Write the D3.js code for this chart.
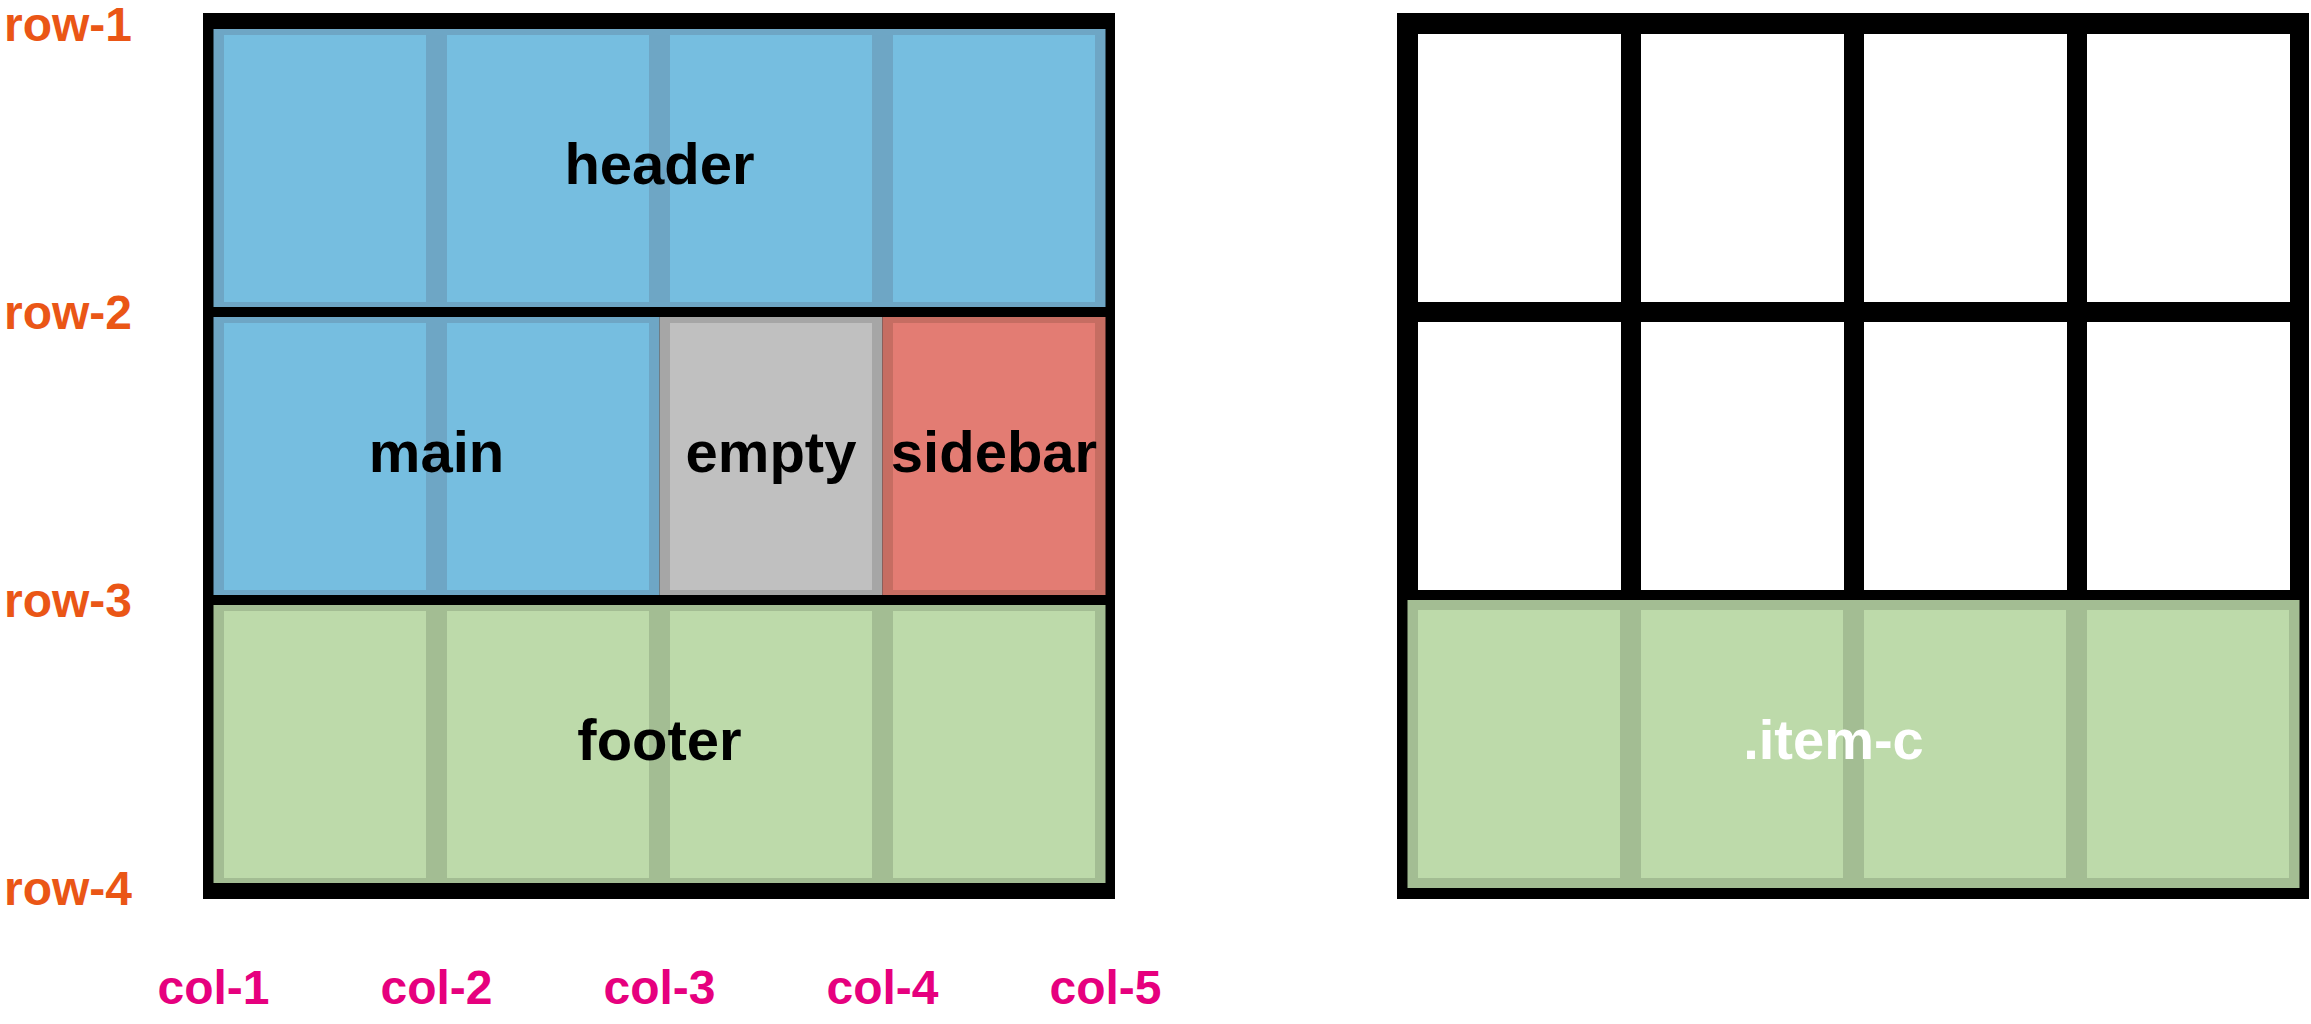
<!DOCTYPE html>
<html>
<head>
<meta charset="utf-8">
<script src="https://cdn.jsdelivr.net/npm/d3@7"></script>
<style>
  html, body { margin: 0; padding: 0; background: #fff; }
  svg { display: block; }
  text { font-family: "Liberation Sans", Arial, Helvetica, sans-serif; font-weight: bold; }
</style>
</head>
<body>
<svg id="chart" width="2311" height="1024"></svg>
<script>
// ---- data ----
const rowLabels = ["row-1", "row-2", "row-3", "row-4"];
const colLabels = ["col-1", "col-2", "col-3", "col-4", "col-5"];
const gridRows = [0, 1, 2];        // track indices of the 3x4 grid
const gridCols = [0, 1, 2, 3];
// areas on the left grid: [name, colStart, colEnd, rowStart, rowEnd]
const areaNames  = ["header", "main", "empty", "sidebar", "footer"];
const areaCols   = [[1, 5], [1, 3], [3, 4], [4, 5], [1, 5]];
const areaRows   = [[1, 2], [2, 3], [2, 3], [2, 3], [3, 4]];
const areaColors = ["blue", "blue", "grey", "red", "green"];
// item on the right grid
const itemName = ".item-c";
const itemCols = [1, 5];
const itemRows = [3, 4];

const palette = {
  blue:  { light: "#76bee0", dark: "#6ea6c5" },
  grey:  { light: "#c0c0c0", dark: "#a6a6a6" },
  red:   { light: "#e37c73", dark: "#c66d62" },
  green: { light: "#bddaaa", dark: "#a3bd93" }
};

const svg = d3.select("#chart");

// ---- geometry via scales ----
const cellW = 202, cellH = 268, gap = 21, rowGap = 20;
function makePanel(x0) {
  const xs = d3.scaleLinear().domain([0, 1]).range([x0, x0 + cellW + gap]);
  const ys = d3.scaleLinear().domain([0, 1]).range([34, 34 + cellH + rowGap]);
  return {
    xs, ys,
    colLine: c => xs(c - 1) - gap / 2,
    rowLine: r => ys(r - 1) - rowGap / 2
  };
}
const left = makePanel(224);
const right = makePanel(1418);

function drawPanel(p, g) {
  const x0 = p.xs(0) - 21, x1 = p.xs(3) + cellW + 20;
  const y0 = p.ys(0) - 21, y1 = p.ys(2) + cellH + 21;
  g.append("rect").attr("x", x0).attr("y", y0)
    .attr("width", x1 - x0).attr("height", y1 - y0).attr("fill", "#000");
}

function cellsIn(c0, c1, r0, r1) {
  const out = [];
  for (const r of gridRows) for (const c of gridCols)
    if (c >= c0 - 1 && c < c1 - 1 && r >= r0 - 1 && r < r1 - 1) out.push([c, r]);
  return out;
}

function drawItem(p, g, cols, rows, color, inset) {
  const x0 = p.colLine(cols[0]), x1 = p.colLine(cols[1]);
  const y0 = p.rowLine(rows[0]) + inset, y1 = p.rowLine(rows[1]) - inset;
  g.append("rect").attr("x", x0).attr("y", y0)
    .attr("width", x1 - x0).attr("height", y1 - y0).attr("fill", palette[color].dark);
  g.selectAll(null).data(cellsIn(cols[0], cols[1], rows[0], rows[1])).enter()
    .append("rect")
    .attr("x", d => Math.max(p.xs(d[0]), x0 + 9))
    .attr("y", d => Math.max(p.ys(d[1]), y0 + 6))
    .attr("width", d => Math.min(p.xs(d[0]) + cellW, x1 - 10) - Math.max(p.xs(d[0]), x0 + 9))
    .attr("height", d => Math.min(p.ys(d[1]) + cellH, y1 - 5) - Math.max(p.ys(d[1]), y0 + 6))
    .attr("fill", palette[color].light);
  return { cx: (x0 + x1) / 2, cy: (y0 + y1) / 2 };
}

// left panel
const gl = svg.append("g");
drawPanel(left, gl);
areaNames.forEach((name, i) => {
  const c = drawItem(left, gl, areaCols[i], areaRows[i], areaColors[i], 5);
  gl.append("text").attr("x", c.cx).attr("y", c.cy).attr("dy", "0.28em")
    .attr("text-anchor", "middle").attr("font-size", 58).attr("fill", "#000").text(name);
});

// right panel
const gr = svg.append("g");
drawPanel(right, gr);
gr.selectAll(null).data(cellsIn(1, 5, 1, 4)).enter().append("rect")
  .attr("x", d => right.xs(d[0])).attr("y", d => right.ys(d[1]))
  .attr("width", cellW + 1).attr("height", cellH).attr("fill", "#fff");
const ic = drawItem(right, gr, itemCols, itemRows, "green", 0);
gr.append("text").attr("x", ic.cx).attr("y", ic.cy).attr("dx", -20).attr("dy", "0.27em")
  .attr("text-anchor", "middle").attr("font-size", 56).attr("fill", "#fff").text(itemName);

// row labels
const rowPos = d3.scalePoint().domain(rowLabels).range([left.rowLine(1), left.rowLine(4)]);
svg.append("g").selectAll("text").data(rowLabels).enter().append("text")
  .attr("x", 4).attr("y", d => rowPos(d)).attr("dy", "0.36em")
  .attr("font-size", 48).attr("fill", "#ea5616").text(d => d);

// col labels
const colPos = d3.scalePoint().domain(colLabels).range([left.colLine(1), left.colLine(5)]);
svg.append("g").selectAll("text").data(colLabels).enter().append("text")
  .attr("x", d => colPos(d)).attr("y", 1004)
  .attr("text-anchor", "middle").attr("font-size", 48).attr("fill", "#e6007e").text(d => d);
</script>
</body>
</html>
